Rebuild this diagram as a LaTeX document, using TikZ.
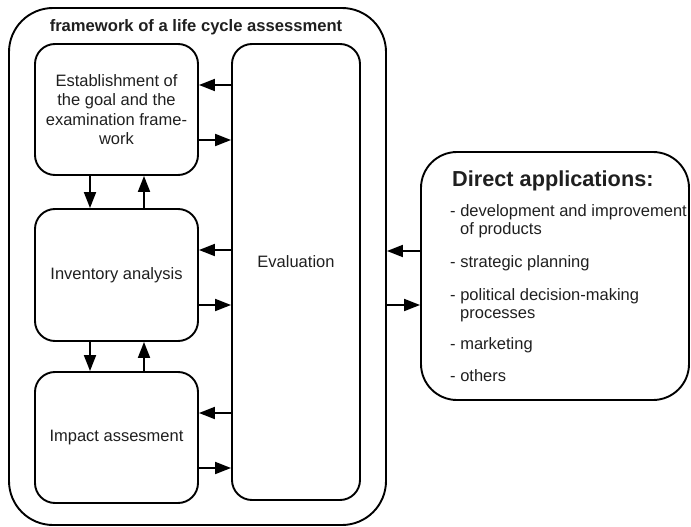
\documentclass[tikz,border=0pt]{standalone}
\usepackage{fontspec}
\setmainfont{Liberation Sans}
\usetikzlibrary{arrows.meta}
\begin{document}
\begin{tikzpicture}[x=1pt,y=-1pt,
  txt/.style={font=\fontsize{16.5}{19.5}\selectfont,text=black!88},
  box/.style={draw,line width=1.9pt,rounded corners=20pt,inner sep=0pt,align=center,txt},
  arr/.style={line width=1.9pt,-{Triangle[length=16pt,width=12pt]}},
  item/.style={txt,anchor=base west,inner sep=0pt},
]
\useasboundingbox (0,0) rectangle (691,527);

% outer frame and its heading
\node[box,rounded corners=44pt,minimum width=377pt,minimum height=517pt] (frame) at (197.5,266.5) {};
\node[font=\bfseries\fontsize{16.6}{19}\selectfont,text=black!88,anchor=base,inner sep=0pt] (title) at (196,31.5) {framework of a life cycle assessment};

% phases
\node[box,minimum width=163pt,minimum height=131pt] (goal) at (116.5,109.5)
  {Establishment of\\the goal and the\\examination frame-\\work};
\node[box,minimum width=163pt,minimum height=132pt] (inv) at (116.5,275) {Inventory analysis};
\node[box,minimum width=163pt,minimum height=131pt] (imp) at (116.5,437.5) {Impact assesment};
\node[box,minimum width=128pt,minimum height=456pt] (eval) at (296,272) {};
\node[txt] (evaltxt) at (296,262) {Evaluation};

% phase <-> evaluation
\foreach \b/\ya/\yb in {goal/85/140, inv/250/305, imp/413/468}{
  \draw[arr] (eval.west |- 0,\ya) -- (\b.east |- 0,\ya);
  \draw[arr] (\b.east |- 0,\yb) -- (eval.west |- 0,\yb);
}

% phase <-> phase
\draw[arr] (goal.south -| 90,0) -- (inv.north -| 90,0);
\draw[arr] (inv.north -| 144,0) -- (goal.south -| 144,0);
\draw[arr] (inv.south -| 90,0) -- (imp.north -| 90,0);
\draw[arr] (imp.north -| 144,0) -- (inv.south -| 144,0);

% direct applications
\node[box,rounded corners=36pt,minimum width=268pt,minimum height=248pt] (direct) at (555,276) {};
\node[font=\bfseries\fontsize{21.7}{24}\selectfont,text=black!88,anchor=base west,inner sep=0pt] (dhead) at (452,186) {Direct applications:};
\node[item] (i1) at (450,216) {- development and improvement};
\node[item] (i1b) at (460,234) {of products};
\node[item] (i2) at (450,267) {- strategic planning};
\node[item] (i3) at (450,300) {- political decision-making};
\node[item] (i3b) at (460,318) {processes};
\node[item] (i4) at (450,349) {- marketing};
\node[item] (i5) at (450,381) {- others};

% frame <-> direct applications
\draw[arr] (direct.west |- 0,251) -- (frame.east |- 0,251);
\draw[arr] (frame.east |- 0,305) -- (direct.west |- 0,305);
\end{tikzpicture}
\end{document}
